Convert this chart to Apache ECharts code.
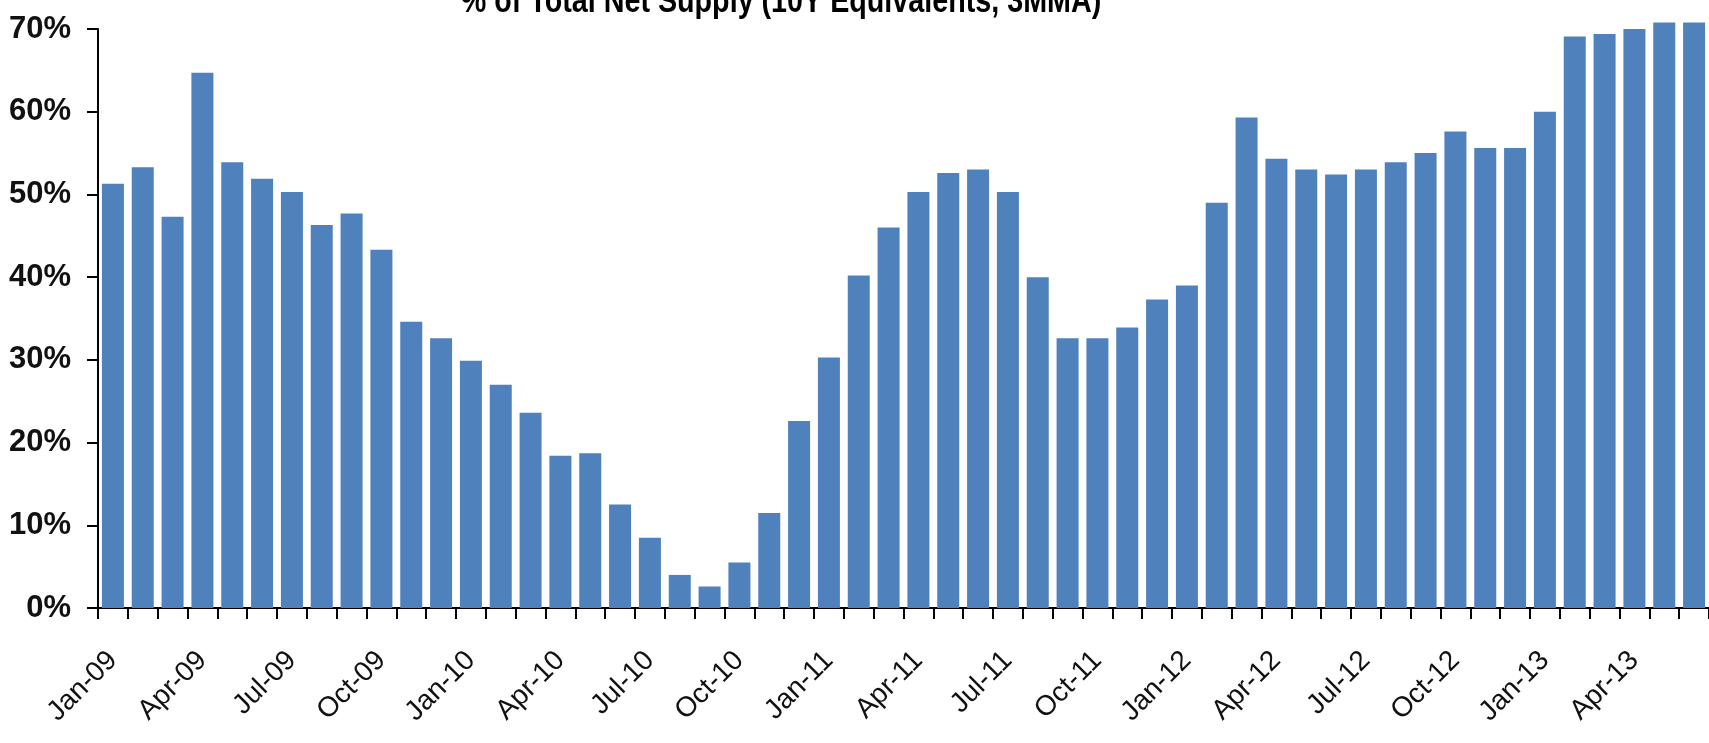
<!DOCTYPE html>
<html>
<head>
<meta charset="utf-8">
<script src="https://cdn.jsdelivr.net/npm/echarts@6/dist/echarts.min.js"></script>
<style>
  html, body { margin: 0; padding: 0; background: #ffffff; }
  #chart { width: 1709px; height: 743px; }
</style>
</head>
<body>
<div id="chart"></div>
<script>
const titleText = '% of Total Net Supply (10Y Equivalents, 3MMA)';

const categories = [
  'Jan-09','Feb-09','Mar-09','Apr-09','May-09','Jun-09','Jul-09','Aug-09','Sep-09','Oct-09','Nov-09','Dec-09',
  'Jan-10','Feb-10','Mar-10','Apr-10','May-10','Jun-10','Jul-10','Aug-10','Sep-10','Oct-10','Nov-10','Dec-10',
  'Jan-11','Feb-11','Mar-11','Apr-11','May-11','Jun-11','Jul-11','Aug-11','Sep-11','Oct-11','Nov-11','Dec-11',
  'Jan-12','Feb-12','Mar-12','Apr-12','May-12','Jun-12','Jul-12','Aug-12','Sep-12','Oct-12','Nov-12','Dec-12',
  'Jan-13','Feb-13','Mar-13','Apr-13','May-13','Jun-13'
];

const shareValues = [
  51.3, 53.3, 47.3, 64.7, 53.9, 51.9, 50.3, 46.3, 47.7, 43.3, 34.6, 32.6,
  29.9, 27.0, 23.6, 18.4, 18.7, 12.5, 8.5, 4.0, 2.6, 5.5, 11.5, 22.6,
  30.3, 40.2, 46.0, 50.3, 52.6, 53.0, 50.3, 40.0, 32.6, 32.6, 33.9, 37.3,
  39.0, 49.0, 59.3, 54.3, 53.0, 52.4, 53.0, 53.9, 55.0, 57.6, 55.6, 55.6,
  60.0, 69.1, 69.4, 70.0, 70.8, 70.8
];

const yTicks = [0, 10, 20, 30, 40, 50, 60, 70];

const chart = echarts.init(document.getElementById('chart'), null, { renderer: 'canvas' });

const option = {
  backgroundColor: '#ffffff',
  animation: false,
  graphic: [{
    type: 'text',
    x: 781,
    y: -15,
    scaleX: 0.82,
    silent: true,
    style: {
      text: titleText,
      textAlign: 'center',
      verticalAlign: 'top',
      fontFamily: '"Liberation Sans", Arial, sans-serif',
      fontWeight: 'bold',
      fontSize: 35,
      fill: '#000000'
    }
  }],
  grid: {
    left: 98,
    right: -11,
    top: 29,
    bottom: 135,
    containLabel: false
  },
  xAxis: {
    type: 'category',
    data: categories,
    boundaryGap: true,
    axisLine: { show: true, lineStyle: { color: '#000000', width: 2 } },
    axisTick: {
      show: true,
      interval: 0,
      alignWithLabel: false,
      length: 11,
      lineStyle: { color: '#000000', width: 2 }
    },
    axisLabel: {
      interval: 2,
      rotate: 45,
      margin: 48,
      fontFamily: '"Liberation Sans", Arial, sans-serif',
      fontSize: 28,
      color: '#111111'
    },
    splitLine: { show: false }
  },
  yAxis: {
    type: 'value',
    min: yTicks[0],
    max: yTicks[yTicks.length - 1],
    interval: 10,
    axisLine: { show: true, lineStyle: { color: '#000000', width: 2 } },
    axisTick: { show: true, length: 11, lineStyle: { color: '#000000', width: 2 } },
    axisLabel: {
      formatter: '{value}%',
      margin: 27,
      fontFamily: '"Liberation Sans", Arial, sans-serif',
      fontWeight: 'bold',
      fontSize: 31,
      color: '#111111'
    },
    splitLine: { show: false }
  },
  series: [{
    type: 'bar',
    data: shareValues,
    barWidth: 22,
    clip: false,
    itemStyle: { color: '#4F81BD' }
  }]
};

chart.setOption(option);
</script>
</body>
</html>
